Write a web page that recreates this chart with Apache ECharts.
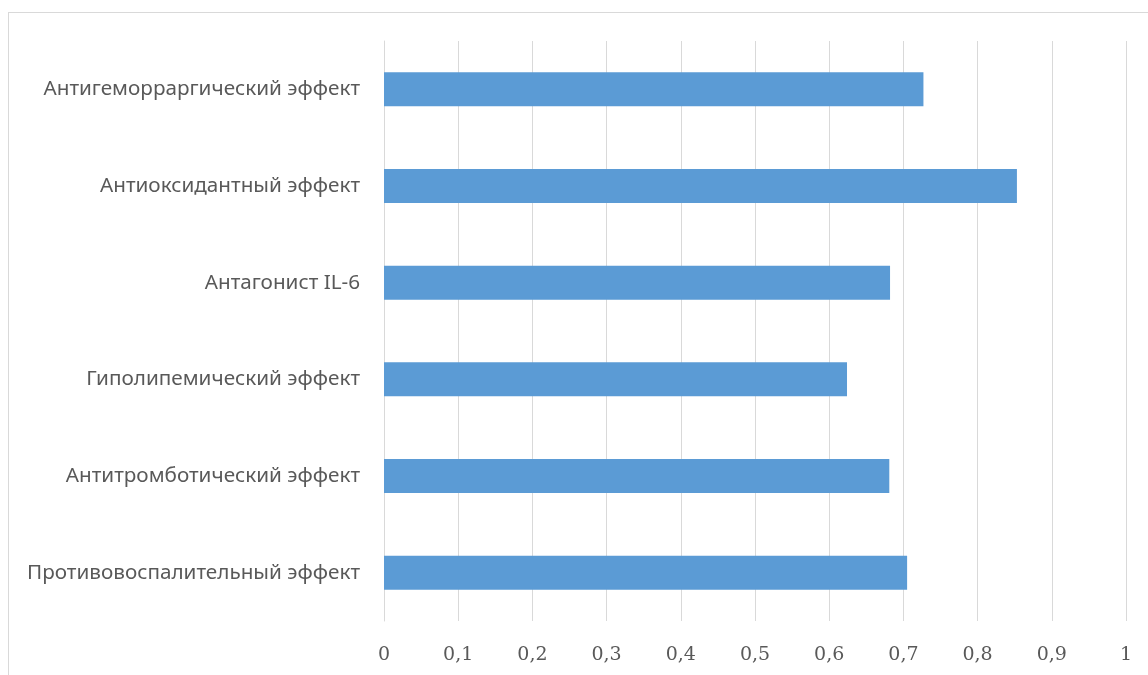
<!DOCTYPE html>
<html>
<head>
<meta charset="utf-8">
<script src="https://cdn.jsdelivr.net/npm/echarts@6/dist/echarts.min.js"></script>
<style>
  html, body { margin: 0; padding: 0; background: #fff; }
  #frame {
    position: absolute; left: 8px; top: 12px; width: 1200px; height: 700px;
    border: 1px solid #d9d9d9; box-sizing: border-box;
  }
  #chart { position: absolute; left: 0; top: 0; width: 1148px; height: 675px; }
</style>
</head>
<body>
<div id="frame"></div>
<div id="chart"></div>
<script>
// категории снизу вверх
const categories = [
  "Противовоспалительный эффект",
  "Антитромботический эффект",
  "Гиполипемический эффект",
  "Антагонист IL-6",
  "Антиоксидантный эффект",
  "Антигеморраргический эффект"
];
const values = [0.705, 0.681, 0.624, 0.682, 0.853, 0.727];

const chart = echarts.init(document.getElementById("chart"));
chart.setOption({
  animation: false,
  grid: { left: 384, right: 22, top: 41, bottom: 54 },
  xAxis: {
    type: "value",
    min: 0,
    max: 1,
    interval: 0.1,
    axisLine: { show: false },
    axisTick: { show: false },
    axisLabel: {
      color: "#595959",
      fontSize: 19,
      fontFamily: "DejaVu Serif",
      margin: 25,
      formatter: (v) => String(Math.round(v * 10) / 10).replace(".", ",")
    },
    splitLine: { show: true, lineStyle: { color: "#d9d9d9", width: 1 } }
  },
  yAxis: {
    type: "category",
    data: categories,
    axisLine: { show: true, lineStyle: { color: "#d9d9d9" } },
    axisTick: { show: false },
    axisLabel: {
      color: "#595959",
      fontSize: 20.7,
      fontFamily: "Noto Sans",
      margin: 24
    }
  },
  series: [
    {
      type: "bar",
      data: values,
      barWidth: 34,
      itemStyle: { color: "#5b9bd5" }
    }
  ]
});
</script>
</body>
</html>
